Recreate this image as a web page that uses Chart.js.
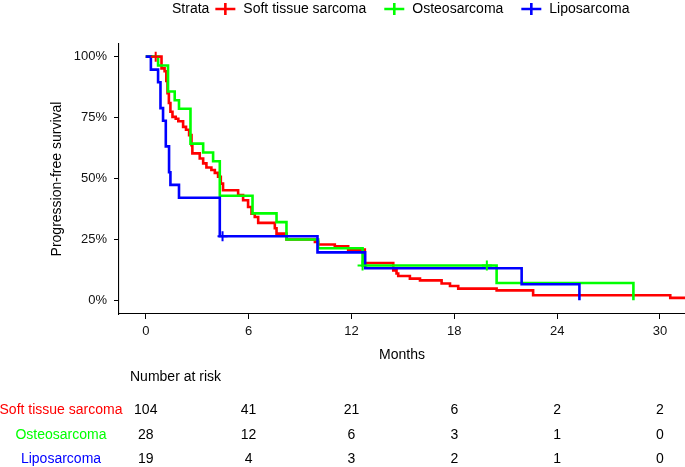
<!DOCTYPE html>
<html lang="en">
<head>
<meta charset="UTF-8" />
<title>Progression-free survival</title>
<script src="https://cdn.jsdelivr.net/npm/chart.js"></script>
<style>
  body { margin: 0; background: #fff; }
  .wrap { position: relative; width: 685px; height: 467px; }
</style>
</head>
<body>
<div class="wrap"><canvas id="km"></canvas></div>
<script>
const FONT = "'Liberation Sans', Arial, Helvetica, sans-serif";

const strata = ['Soft tissue sarcoma', 'Osteosarcoma', 'Liposarcoma'];
const colors = ['#ff0000', '#00ff00', '#0000ff'];

// Kaplan-Meier steps: time (months) and survival after the step
const softTime = [0, 0.92, 1.1, 1.2, 1.27, 1.35, 1.44, 1.56, 1.75, 1.9, 2.18, 2.35, 2.53, 2.67, 2.72, 3.15, 3.35, 3.54, 3.83, 4.03, 4.22, 4.38, 4.51, 5.39, 5.68, 5.97, 6.17, 6.36, 6.56, 7.53, 7.63, 8.21, 9.87, 10.06, 11.03, 11.81, 12.78, 14.44, 14.63, 14.73, 15.41, 16.0, 17.26, 17.75, 18.23, 20.47, 22.6, 30.6, 31.5];
const softSurv = [1, 0.952, 0.94, 0.90, 0.85, 0.81, 0.774, 0.753, 0.745, 0.735, 0.712, 0.70, 0.678, 0.637, 0.603, 0.582, 0.562, 0.545, 0.535, 0.523, 0.507, 0.479, 0.452, 0.432, 0.411, 0.383, 0.356, 0.342, 0.318, 0.296, 0.274, 0.25, 0.24, 0.229, 0.222, 0.208, 0.153, 0.123, 0.11, 0.10, 0.089, 0.082, 0.069, 0.059, 0.048, 0.041, 0.021, 0.01, 0.01];

const osteoTime = [0, 0.72, 1.30, 1.69, 1.94, 2.61, 3.35, 3.93, 4.32, 6.23, 7.63, 8.21, 10.06, 12.65, 20.47, 28.45];
const osteoSurv = [1, 0.964, 0.857, 0.821, 0.786, 0.643, 0.607, 0.571, 0.429, 0.357, 0.321, 0.25, 0.214, 0.143, 0.071, 0];

const lipoTime = [0, 0.3, 0.72, 0.86, 1.01, 1.17, 1.36, 1.44, 1.94, 4.32, 10.02, 12.8, 21.93, 25.3];
const lipoSurv = [1, 0.947, 0.895, 0.789, 0.737, 0.632, 0.526, 0.474, 0.421, 0.263, 0.197, 0.132, 0.066, 0];

// censored observations
const softCensorTime = [0.58];
const softCensorSurv = [1];
const osteoCensorTime = [12.65, 19.9];
const osteoCensorSurv = [0.143, 0.143];
const lipoCensorTime = [4.48];
const lipoCensorSurv = [0.263];

// number at risk table
const riskTimes = [0, 6, 12, 18, 24, 30];
const riskSoft = [104, 41, 21, 6, 2, 2];
const riskOsteo = [28, 12, 6, 3, 1, 0];
const riskLipo = [19, 4, 3, 2, 1, 0];

const xTicks = [0, 6, 12, 18, 24, 30];
const yTicks = [0, 0.25, 0.5, 0.75, 1];

function toPoints(xs, ys) {
  return xs.map((x, i) => ({ x: x, y: ys[i] }));
}

function stepSet(i, xs, ys, order) {
  return {
    label: strata[i],
    data: toPoints(xs, ys),
    borderColor: colors[i],
    borderWidth: 2.6,
    stepped: true,
    pointRadius: 0,
    fill: false,
    order: order
  };
}

function censorSet(i, xs, ys) {
  return {
    type: 'scatter',
    label: strata[i] + ' censored',
    data: toPoints(xs, ys),
    borderColor: colors[i],
    backgroundColor: colors[i],
    pointStyle: 'cross',
    pointRadius: 5,
    borderWidth: 2,
    showLine: false,
    order: 0
  };
}

// legend on top and risk table underneath
const extras = {
  id: 'extras',
  afterDraw(chart) {
    const ctx = chart.ctx;
    const xs = chart.scales.x;
    ctx.save();
    ctx.font = '14px ' + FONT;
    ctx.textBaseline = 'middle';

    // legend
    let lx = 172;
    const ly = 9;
    ctx.fillStyle = '#000';
    ctx.textAlign = 'left';
    ctx.fillText('Strata', lx, ly);
    lx += ctx.measureText('Strata').width + 6;
    strata.forEach((name, i) => {
      ctx.strokeStyle = colors[i];
      ctx.lineWidth = 2.6;
      ctx.beginPath();
      ctx.moveTo(lx, ly);
      ctx.lineTo(lx + 20, ly);
      ctx.moveTo(lx + 10, ly - 6);
      ctx.lineTo(lx + 10, ly + 6);
      ctx.stroke();
      lx += 28;
      ctx.fillStyle = '#000';
      ctx.fillText(name, lx, ly);
      lx += ctx.measureText(name).width + 18;
    });

    // number at risk
    ctx.fillStyle = '#000';
    ctx.fillText('Number at risk', 130, 377);
    const rows = [riskSoft, riskOsteo, riskLipo];
    const rowY = [410, 435, 459];
    rows.forEach((row, r) => {
      ctx.textAlign = 'center';
      ctx.fillStyle = colors[r];
      ctx.fillText(strata[r], 61, rowY[r]);
      ctx.fillStyle = '#000';
      row.forEach((n, k) => {
        ctx.fillText(String(n), xs.getPixelForValue(riskTimes[k]), rowY[r]);
      });
    });
    ctx.restore();
  }
};

new Chart(document.getElementById('km'), {
  type: 'line',
  data: {
    datasets: [
      stepSet(0, softTime, softSurv, 3),
      stepSet(1, osteoTime, osteoSurv, 2),
      stepSet(2, lipoTime, lipoSurv, 1),
      censorSet(0, softCensorTime, softCensorSurv),
      censorSet(1, osteoCensorTime, osteoCensorSurv),
      censorSet(2, lipoCensorTime, lipoCensorSurv)
    ]
  },
  options: {
    responsive: true,
    maintainAspectRatio: false,
    animation: false,
    layout: { autoPadding: false, padding: { top: 44, left: 0, right: 0, bottom: 0 } },
    plugins: {
      legend: { display: false },
      tooltip: { enabled: false }
    },
    scales: {
      x: {
        type: 'linear',
        min: -1.56,
        max: 31.46,
        afterBuildTicks(scale) { scale.ticks = xTicks.map(v => ({ value: v })); },
        afterFit(scale) {
          scale.height = 153;
          scale.paddingLeft = 0;
          scale.paddingRight = 0;
        },
        border: { display: true, color: '#000', width: 1.1 },
        grid: { drawOnChartArea: false, drawTicks: true, tickLength: 5, color: '#000' },
        ticks: { color: '#111', font: { family: FONT, size: 13 }, padding: 5, maxRotation: 0 },
        title: {
          display: true,
          text: 'Months',
          color: '#000',
          font: { family: FONT, size: 14 },
          padding: { top: 0, bottom: 103.6 }
        }
      },
      y: {
        type: 'linear',
        min: -0.056,
        max: 1.052,
        afterBuildTicks(scale) { scale.ticks = yTicks.map(v => ({ value: v })); },
        afterFit(scale) {
          scale.width = 119;
          scale.paddingTop = 0;
          scale.paddingBottom = 0;
        },
        border: { display: true, color: '#000', width: 1.1 },
        grid: { drawOnChartArea: false, drawTicks: true, tickLength: 5, color: '#000' },
        ticks: {
          color: '#111',
          font: { family: FONT, size: 13 },
          padding: 7,
          callback: v => Math.round(v * 100) + '%'
        },
        title: {
          display: true,
          text: 'Progression-free survival',
          color: '#000',
          font: { family: FONT, size: 14 },
          padding: { top: 48.6, bottom: 0 }
        }
      }
    }
  },
  plugins: [extras]
});
</script>
</body>
</html>
